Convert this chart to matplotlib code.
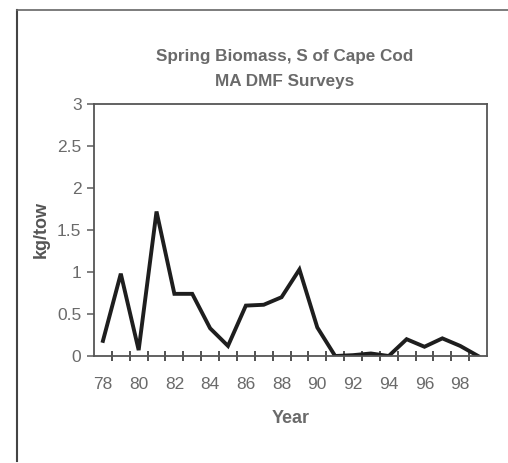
import matplotlib
matplotlib.use("Agg")
import matplotlib.pyplot as plt
from matplotlib.lines import Line2D
import numpy as np

# spring biomass survey, kg/tow by year (2-digit years)
years = [78, 79, 80, 81, 82, 83, 84, 85, 86, 87, 88,
         89, 90, 91, 92, 93, 94, 95, 96, 97, 98, 99]
kg_tow = [0.18, 0.98, 0.07, 1.72, 0.74, 0.74, 0.33, 0.12, 0.60, 0.61, 0.70,
          1.03, 0.34, 0.00, 0.01, 0.03, 0.00, 0.20, 0.11, 0.21, 0.12, 0.00]
year_labels = ["78", "80", "82", "84", "86", "88", "90", "92", "94", "96", "98"]

plt.rcParams['font.family'] = ['Liberation Sans', 'DejaVu Sans']
grey = '#6a6a6a'

fig = plt.figure(figsize=(5.08, 4.63), dpi=100)
ax = fig.add_axes([94 / 508, 1 - 356 / 463, (487 - 94) / 508, (356 - 104) / 463])

ax.plot(years, kg_tow, color='#1e1e1e', lw=2.8, solid_joinstyle='miter')

ax.set_xlim(77.5, 99.5)
ax.set_ylim(0, 3)
ax.set_yticks([0, 0.5, 1, 1.5, 2, 2.5, 3])
ax.set_yticklabels(['0', '0.5', '1', '1.5', '2', '2.5', '3'])
# category axis: tick marks between years, labels every other year
ax.set_xticks(np.arange(78.5, 99.5, 1))
ax.set_xticklabels([])
ax.set_xticks([int(s) for s in year_labels], minor=True)
ax.set_xticklabels(year_labels, minor=True)
ax.tick_params(axis='x', which='major', direction='inout', length=7, width=1.2, color='#333333')
ax.tick_params(axis='x', which='minor', length=0, pad=15, labelsize=12.5, labelcolor=grey)
ax.tick_params(axis='y', direction='out', length=5, width=1.2, color=grey, labelsize=12.5, labelcolor=grey, pad=4)

for s in ax.spines.values():
    s.set_color('#555555')
    s.set_linewidth(1.3)

ax.set_ylabel('kg/tow', fontsize=13, fontweight='bold', color='#555555', labelpad=5)
ax.set_xlabel('Year', fontsize=13, fontweight='bold', color=grey, labelpad=13)

fig.text(285 / 508, 1 - 57 / 463, 'Spring Biomass, S of Cape Cod', ha='center', va='center',
         fontsize=12.3, fontweight='bold', color=grey)
fig.text(285 / 508, 1 - 82 / 463, 'MA DMF Surveys', ha='center', va='center',
         fontsize=12.3, fontweight='bold', color=grey)

# outer frame of the scanned chart
fig.add_artist(Line2D([17 / 508, 17 / 508], [1 - 461 / 463, 1 - 10 / 463], color='#444444', lw=1.5))
fig.add_artist(Line2D([17 / 508, 1.0], [1 - 10 / 463, 1 - 10 / 463], color='#666666', lw=1.2))

fig.savefig('out.png', dpi=100)
